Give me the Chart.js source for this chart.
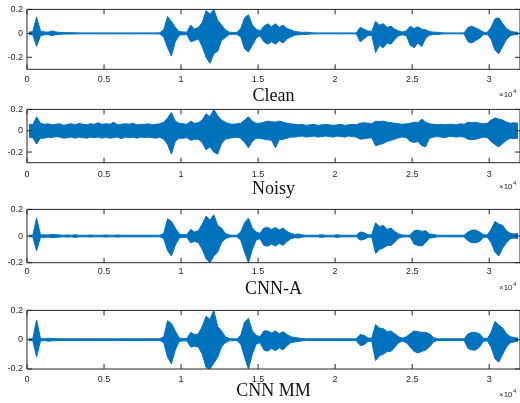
<!DOCTYPE html>
<html>
<head>
<meta charset="utf-8">
<script src="https://cdn.jsdelivr.net/npm/chart.js@4/dist/chart.umd.min.js"></script>
<style>
  html, body { margin: 0; padding: 0; background: #ffffff; }
  body { width: 520px; height: 403px; position: relative; overflow: hidden; }
  canvas { position: absolute; left: 0; }
</style>
</head>
<body>
<canvas id="c0"></canvas>
<canvas id="c1"></canvas>
<canvas id="c2"></canvas>
<canvas id="c3"></canvas>
<script>
// ---- data: waveform envelopes (max / min per 250-sample bin) ----
const binSize = 250;
const xTickValues = [0, 5000, 10000, 15000, 20000, 25000, 30000];
const xTickLabels = ['0', '0.5', '1', '1.5', '2', '2.5', '3'];
const yTickValues = [-0.2, 0, 0.2];
const yTickLabels = ['-0.2', '0', '0.2'];
const titles = ['Clean', 'Noisy', 'CNN-A', 'CNN MM'];

const cleanHi = [
  0.01,0.015,0.135,0.02,0.012,0.01,0.02,0.012,0.008,0.006,
  0.006,0.005,0.005,0.004,0.004,0.004,0.004,0.004,0.004,0.004,
  0.004,0.004,0.004,0.004,0.004,0.004,0.004,0.004,0.004,0.004,
  0.004,0.004,0.004,0.004,0.005,0.03,0.14,0.1,0.05,0.015,
  0.012,0.01,0.07,0.035,0.05,0.09,0.19,0.16,0.2,0.11,
  0.07,0.03,0.01,0.008,0.008,0.04,0.13,0.155,0.07,0.035,
  0.02,0.06,0.08,0.055,0.08,0.05,0.07,0.04,0.03,0.015,
  0.012,0.008,0.01,0.006,0.004,0.004,0.004,0.004,0.004,0.004,
  0.004,0.004,0.004,0.004,0.004,0.004,0.05,0.035,0.02,0.015,
  0.1,0.07,0.08,0.05,0.06,0.035,0.02,0.012,0.02,0.06,
  0.04,0.055,0.035,0.03,0.015,0.01,0.01,0.006,0.004,0.004,
  0.004,0.004,0.004,0.004,0.05,0.06,0.045,0.03,0.01,0.008,
  0.05,0.12,0.13,0.08,0.04,0.02,0.01,0.01
];
const cleanLo = [
  -0.01,-0.012,-0.108,-0.02,-0.012,-0.01,-0.02,-0.01,-0.008,-0.006,
  -0.006,-0.005,-0.005,-0.004,-0.004,-0.004,-0.004,-0.004,-0.004,-0.004,
  -0.004,-0.004,-0.004,-0.004,-0.004,-0.004,-0.004,-0.004,-0.004,-0.004,
  -0.004,-0.004,-0.004,-0.004,-0.005,-0.03,-0.12,-0.19,-0.07,-0.015,
  -0.012,-0.01,-0.07,-0.06,-0.045,-0.11,-0.2,-0.25,-0.17,-0.15,
  -0.06,-0.035,-0.01,-0.008,-0.008,-0.03,-0.13,-0.155,-0.1,-0.04,
  -0.02,-0.07,-0.09,-0.07,-0.09,-0.06,-0.08,-0.045,-0.03,-0.015,
  -0.012,-0.01,-0.008,-0.006,-0.004,-0.004,-0.004,-0.004,-0.004,-0.004,
  -0.004,-0.004,-0.004,-0.004,-0.004,-0.004,-0.07,-0.045,-0.02,-0.015,
  -0.16,-0.1,-0.12,-0.08,-0.09,-0.05,-0.02,-0.012,-0.02,-0.1,
  -0.12,-0.08,-0.11,-0.04,-0.015,-0.01,-0.01,-0.006,-0.004,-0.004,
  -0.004,-0.004,-0.004,-0.004,-0.07,-0.08,-0.06,-0.04,-0.01,-0.008,
  -0.05,-0.14,-0.17,-0.11,-0.05,-0.02,-0.01,-0.01
];

const noisyHi = [
  0.06,0.055,0.13,0.07,0.06,0.065,0.055,0.06,0.065,0.05,
  0.06,0.065,0.055,0.07,0.06,0.055,0.065,0.06,0.075,0.06,
  0.065,0.06,0.08,0.055,0.06,0.065,0.06,0.07,0.055,0.06,
  0.06,0.065,0.055,0.06,0.065,0.08,0.12,0.17,0.09,0.07,
  0.065,0.06,0.09,0.07,0.075,0.1,0.16,0.13,0.2,0.14,
  0.1,0.08,0.065,0.06,0.065,0.07,0.1,0.13,0.09,0.07,
  0.07,0.08,0.09,0.085,0.08,0.09,0.08,0.07,0.065,0.06,
  0.055,0.06,0.05,0.055,0.06,0.05,0.055,0.06,0.055,0.05,
  0.055,0.06,0.05,0.055,0.06,0.055,0.07,0.075,0.07,0.065,
  0.09,0.085,0.09,0.08,0.075,0.07,0.065,0.06,0.065,0.07,
  0.08,0.075,0.11,0.08,0.065,0.06,0.055,0.06,0.055,0.06,
  0.06,0.055,0.065,0.06,0.08,0.075,0.08,0.07,0.065,0.07,
  0.1,0.12,0.11,0.1,0.08,0.07,0.075,0.07
];
const noisyLo = [
  -0.06,-0.065,-0.125,-0.07,-0.07,-0.06,-0.065,-0.055,-0.06,-0.07,
  -0.065,-0.06,-0.07,-0.06,-0.065,-0.07,-0.06,-0.065,-0.06,-0.07,
  -0.06,-0.07,-0.065,-0.06,-0.075,-0.06,-0.065,-0.06,-0.07,-0.06,
  -0.065,-0.06,-0.065,-0.07,-0.06,-0.08,-0.13,-0.22,-0.1,-0.07,
  -0.07,-0.065,-0.09,-0.08,-0.08,-0.11,-0.18,-0.15,-0.2,-0.22,
  -0.12,-0.08,-0.07,-0.065,-0.06,-0.07,-0.11,-0.16,-0.1,-0.07,
  -0.07,-0.08,-0.085,-0.09,-0.16,-0.085,-0.08,-0.07,-0.06,-0.06,
  -0.055,-0.05,-0.06,-0.055,-0.05,-0.06,-0.055,-0.05,-0.055,-0.06,
  -0.05,-0.055,-0.06,-0.05,-0.055,-0.06,-0.08,-0.075,-0.07,-0.065,
  -0.14,-0.13,-0.12,-0.1,-0.09,-0.08,-0.065,-0.06,-0.065,-0.1,
  -0.11,-0.1,-0.14,-0.15,-0.07,-0.06,-0.055,-0.06,-0.065,-0.055,
  -0.055,-0.06,-0.055,-0.06,-0.08,-0.085,-0.08,-0.07,-0.06,-0.065,
  -0.1,-0.13,-0.15,-0.12,-0.09,-0.07,-0.075,-0.07
];

const cnnAHi = [
  0.006,0.006,0.135,0.008,0.01,0.008,0.012,0.01,0.008,0.006,
  0.008,0.006,0.01,0.006,0.006,0.006,0.008,0.006,0.006,0.006,
  0.008,0.006,0.006,0.008,0.006,0.006,0.006,0.006,0.006,0.006,
  0.006,0.006,0.006,0.006,0.006,0.02,0.13,0.11,0.06,0.015,
  0.01,0.01,0.05,0.03,0.04,0.09,0.15,0.12,0.16,0.08,
  0.06,0.02,0.008,0.006,0.006,0.03,0.1,0.135,0.06,0.03,
  0.02,0.06,0.065,0.05,0.065,0.045,0.06,0.035,0.02,0.012,
  0.015,0.008,0.006,0.006,0.006,0.006,0.01,0.006,0.006,0.006,
  0.01,0.006,0.006,0.006,0.006,0.006,0.03,0.025,0.01,0.008,
  0.1,0.07,0.08,0.05,0.06,0.035,0.015,0.008,0.006,0.008,
  0.04,0.045,0.035,0.04,0.015,0.012,0.006,0.006,0.006,0.006,
  0.006,0.006,0.006,0.006,0.03,0.045,0.045,0.03,0.01,0.008,
  0.05,0.11,0.09,0.08,0.04,0.02,0.015,0.02
];
const cnnALo = [
  -0.006,-0.006,-0.11,-0.008,-0.01,-0.008,-0.012,-0.01,-0.008,-0.006,
  -0.008,-0.006,-0.01,-0.006,-0.006,-0.006,-0.008,-0.006,-0.006,-0.006,
  -0.008,-0.006,-0.006,-0.008,-0.006,-0.006,-0.006,-0.006,-0.006,-0.006,
  -0.006,-0.006,-0.006,-0.006,-0.006,-0.02,-0.11,-0.15,-0.07,-0.015,
  -0.01,-0.01,-0.05,-0.04,-0.05,-0.1,-0.17,-0.2,-0.15,-0.12,
  -0.05,-0.02,-0.008,-0.006,-0.006,-0.03,-0.12,-0.2,-0.1,-0.03,
  -0.02,-0.07,-0.076,-0.06,-0.075,-0.055,-0.07,-0.04,-0.02,-0.012,
  -0.015,-0.008,-0.006,-0.006,-0.006,-0.006,-0.01,-0.006,-0.006,-0.006,
  -0.01,-0.006,-0.006,-0.006,-0.006,-0.006,-0.03,-0.025,-0.01,-0.008,
  -0.13,-0.1,-0.09,-0.07,-0.07,-0.045,-0.015,-0.008,-0.006,-0.008,
  -0.06,-0.07,-0.075,-0.05,-0.015,-0.012,-0.006,-0.006,-0.006,-0.006,
  -0.006,-0.006,-0.006,-0.006,-0.035,-0.05,-0.05,-0.04,-0.01,-0.008,
  -0.05,-0.12,-0.15,-0.09,-0.05,-0.02,-0.015,-0.02
];

const cnnMMHi = [
  0.006,0.006,0.135,0.008,0.006,0.01,0.008,0.006,0.006,0.006,
  0.006,0.006,0.006,0.006,0.006,0.006,0.006,0.006,0.006,0.006,
  0.006,0.006,0.006,0.006,0.006,0.006,0.006,0.006,0.006,0.006,
  0.006,0.006,0.006,0.006,0.006,0.02,0.13,0.11,0.06,0.012,
  0.008,0.008,0.05,0.035,0.04,0.09,0.16,0.14,0.2,0.09,
  0.06,0.02,0.008,0.006,0.006,0.03,0.12,0.146,0.06,0.03,
  0.02,0.06,0.06,0.045,0.06,0.04,0.055,0.035,0.02,0.015,
  0.012,0.008,0.006,0.006,0.006,0.006,0.006,0.006,0.006,0.006,
  0.006,0.006,0.006,0.006,0.006,0.006,0.035,0.03,0.012,0.01,
  0.103,0.08,0.075,0.055,0.06,0.04,0.02,0.01,0.02,0.04,
  0.06,0.055,0.05,0.05,0.04,0.015,0.006,0.006,0.006,0.006,
  0.006,0.006,0.006,0.006,0.04,0.05,0.05,0.04,0.01,0.008,
  0.05,0.125,0.1,0.08,0.04,0.02,0.015,0.01
];
const cnnMMLo = [
  -0.006,-0.006,-0.117,-0.008,-0.006,-0.01,-0.008,-0.006,-0.006,-0.006,
  -0.006,-0.006,-0.006,-0.006,-0.006,-0.006,-0.006,-0.006,-0.006,-0.006,
  -0.006,-0.006,-0.006,-0.006,-0.006,-0.006,-0.006,-0.006,-0.006,-0.006,
  -0.006,-0.006,-0.006,-0.006,-0.006,-0.02,-0.12,-0.165,-0.07,-0.012,
  -0.008,-0.008,-0.05,-0.045,-0.05,-0.1,-0.19,-0.2,-0.16,-0.12,
  -0.05,-0.02,-0.008,-0.006,-0.006,-0.03,-0.12,-0.2,-0.1,-0.03,
  -0.02,-0.07,-0.078,-0.06,-0.075,-0.055,-0.07,-0.04,-0.02,-0.015,
  -0.012,-0.008,-0.006,-0.006,-0.006,-0.006,-0.006,-0.006,-0.006,-0.006,
  -0.006,-0.006,-0.006,-0.006,-0.006,-0.006,-0.04,-0.035,-0.012,-0.01,
  -0.142,-0.11,-0.1,-0.08,-0.08,-0.05,-0.02,-0.01,-0.02,-0.05,
  -0.08,-0.09,-0.08,-0.07,-0.05,-0.015,-0.006,-0.006,-0.006,-0.006,
  -0.006,-0.006,-0.006,-0.006,-0.06,-0.07,-0.07,-0.05,-0.01,-0.008,
  -0.05,-0.13,-0.153,-0.1,-0.05,-0.02,-0.015,-0.01
];

const yRanges = [[-0.3, 0.2], [-0.3, 0.2], [-0.2, 0.2], [-0.2, 0.2]];
const seriesHi = [cleanHi, noisyHi, cnnAHi, cnnMMHi];
const seriesLo = [cleanLo, noisyLo, cnnALo, cnnMMLo];

// ---- layout (page pixels) ----
const layout = [
  { canvasTop: 0,   canvasH: 106, padTop: 5.7, padBottom: 6, plotH: 63.6, tickPad: 5, titleBase: 101, expBase: 27.5 },
  { canvasTop: 100, canvasH: 100, padTop: 5.7, padBottom: 0, plotH: 57.0, tickPad: 6, titleBase: 94,  expBase: 26 },
  { canvasTop: 200, canvasH: 101, padTop: 5.7, padBottom: 0, plotH: 57.0, tickPad: 3, titleBase: 94,  expBase: 27.5 },
  { canvasTop: 301, canvasH: 102, padTop: 5.7, padBottom: 0, plotH: 62.3, tickPad: 5, titleBase: 94.5, expBase: 28 }
];

const AX = '#262626';
const WAVE = '#0072BD';
const FONT = '"Liberation Sans", Arial, Helvetica, sans-serif';

function boxPlugin(k) {
  return {
    id: 'box' + k,
    afterDatasetsDraw(chart) {
      const ctx = chart.ctx;
      const a = chart.chartArea;
      const xs = chart.scales.x, ys = chart.scales.y;
      ctx.save();
      ctx.strokeStyle = AX;
      ctx.lineWidth = 1;
      ctx.beginPath();
      ctx.rect(a.left, a.top, a.right - a.left, a.bottom - a.top);
      ctx.stroke();
      const tl = 5;
      ctx.beginPath();
      xTickValues.forEach(v => {
        const px = xs.getPixelForValue(v);
        ctx.moveTo(px, a.bottom); ctx.lineTo(px, a.bottom - tl);
        ctx.moveTo(px, a.top); ctx.lineTo(px, a.top + tl);
      });
      yTickValues.forEach(v => {
        const py = ys.getPixelForValue(v);
        ctx.moveTo(a.left, py); ctx.lineTo(a.left + tl, py);
        ctx.moveTo(a.right, py); ctx.lineTo(a.right - tl, py);
      });
      ctx.stroke();
      const L = layout[k];
      ctx.fillStyle = AX;
      ctx.textAlign = 'left';
      ctx.textBaseline = 'alphabetic';
      ctx.font = '8px ' + FONT;
      const eb = a.bottom + L.expBase;
      ctx.fillText('\u00d710', 499, eb);
      const w = ctx.measureText('\u00d710').width;
      ctx.font = '6px ' + FONT;
      ctx.fillText('4', 499 + w + 0.5, eb - 4);
      ctx.fillStyle = '#111111';
      ctx.font = '18px "Liberation Serif", "Times New Roman", serif';
      ctx.textAlign = 'center';
      ctx.fillText(titles[k], (a.left + a.right) / 2, L.titleBase);
      ctx.restore();
    }
  };
}

for (let k = 0; k < 4; k++) {
  const L = layout[k];
  const cv = document.getElementById('c' + k);
  cv.width = 520; cv.height = L.canvasH;
  cv.style.top = L.canvasTop + 'px';
  cv.style.width = '520px'; cv.style.height = L.canvasH + 'px';
  const hi = seriesHi[k], lo = seriesLo[k];
  const binX = hi.map((_, i) => i * binSize + binSize / 2);
  const xAxisH = L.canvasH - L.padTop - L.padBottom - L.plotH;
  new Chart(cv, {
    type: 'line',
    data: {
      datasets: [{
        label: titles[k] + ' max',
        data: hi.map((h, i) => ({ x: binX[i], y: h })),
        borderColor: WAVE,
        backgroundColor: WAVE,
        borderWidth: 1,
        pointRadius: 0,
        tension: 0,
        fill: false
      }, {
        label: titles[k] + ' min',
        data: lo.map((v, i) => ({ x: binX[i], y: v })),
        borderColor: WAVE,
        backgroundColor: WAVE,
        borderWidth: 1,
        pointRadius: 0,
        tension: 0,
        fill: '-1'
      }]
    },
    options: {
      responsive: false,
      animation: false,
      devicePixelRatio: 1,
      events: [],
      layout: { padding: { top: L.padTop, right: 0, bottom: L.padBottom, left: 0 } },
      plugins: { legend: { display: false }, tooltip: { enabled: false }, title: { display: false } },
      scales: {
        x: {
          type: 'linear', min: 0, max: 32000, offset: false,
          afterBuildTicks: s => { s.ticks = xTickValues.map(v => ({ value: v })); },
          afterFit: s => { s.height = xAxisH; },
          grid: { display: false, drawTicks: false },
          border: { display: false },
          ticks: {
            autoSkip: false, maxRotation: 0, padding: L.tickPad, color: AX,
            font: { family: FONT, size: 9 },
            callback: (v, i) => xTickLabels[i]
          }
        },
        y: {
          type: 'linear', min: yRanges[k][0], max: yRanges[k][1],
          afterBuildTicks: s => { s.ticks = yTickValues.map(v => ({ value: v })); },
          afterFit: s => { s.width = 27; },
          grid: { display: false, drawTicks: false },
          border: { display: false },
          ticks: {
            padding: 4, color: AX,
            font: { family: FONT, size: 9 },
            callback: (v, i) => yTickLabels[i]
          }
        }
      }
    },
    plugins: [boxPlugin(k)]
  });
}
</script>
</body>
</html>
